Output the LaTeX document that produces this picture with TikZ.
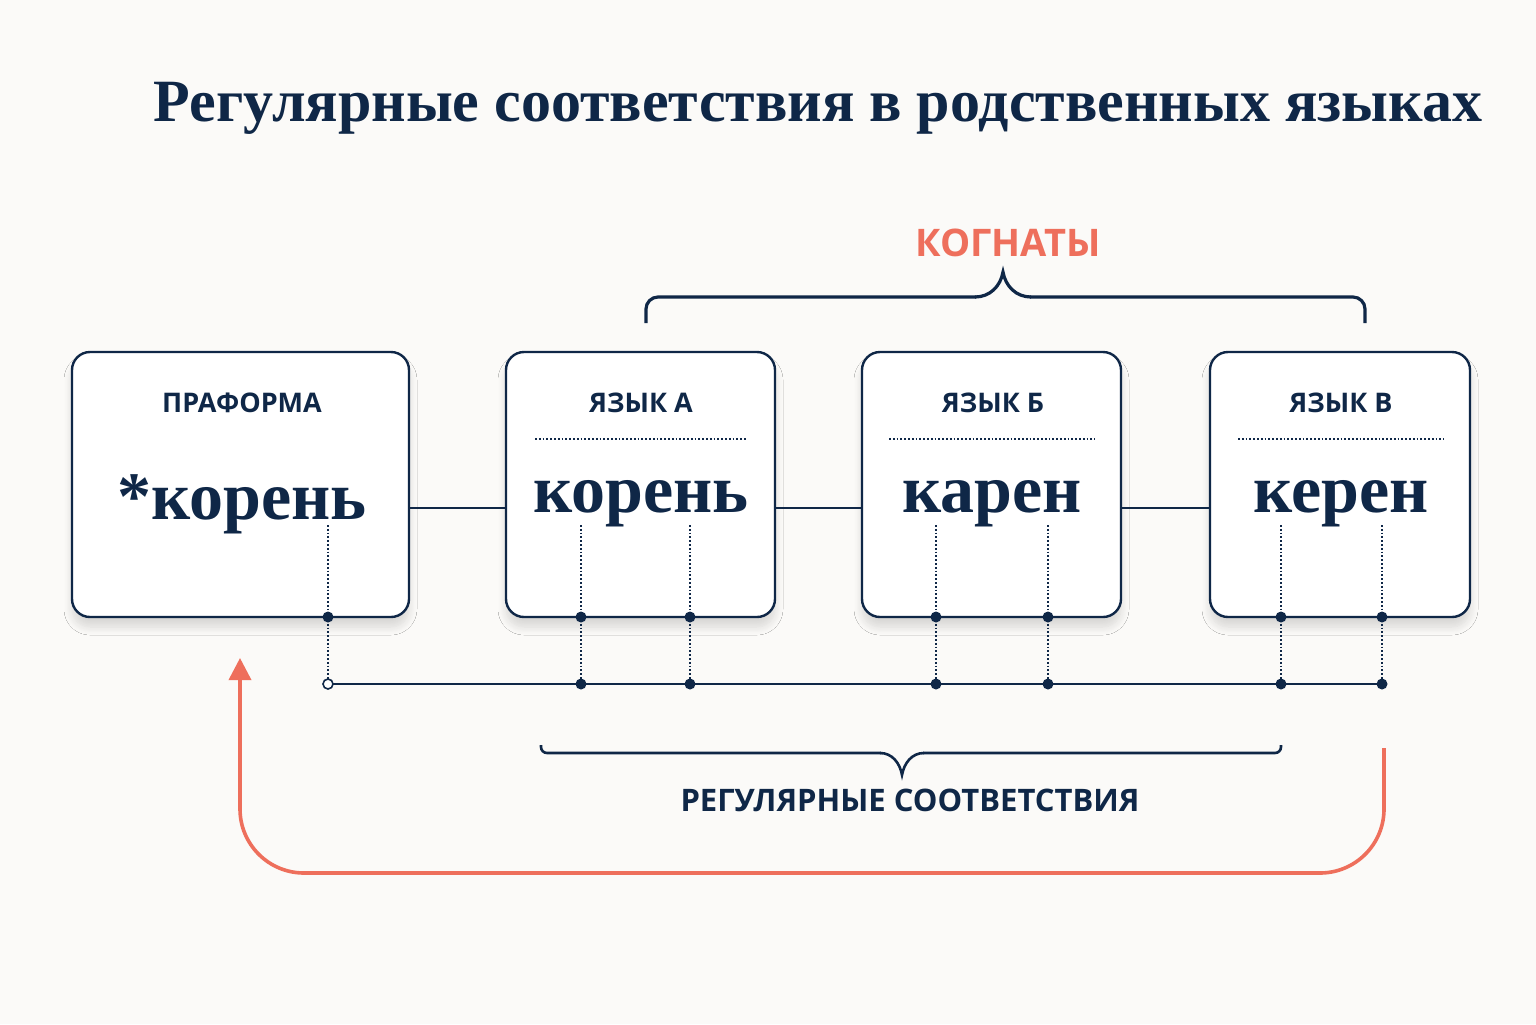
\documentclass[tikz,border=0pt]{standalone}
\usepackage{fontspec}
\setmainfont{Liberation Serif}
\setsansfont{Open Sans}
\usetikzlibrary{shadows.blur,arrows.meta}
\definecolor{navy}{HTML}{0F2747}
\definecolor{coral}{HTML}{EE6F5C}
\definecolor{bg}{HTML}{FBFAF8}
\begin{document}
\begin{tikzpicture}[x=0.5pt,y=-0.5pt,
  box/.style={draw=navy,line width=1.2pt,rounded corners=9pt,fill=white,blur shadow={shadow blur steps=10,shadow blur radius=4pt,shadow xshift=0pt,shadow yshift=-5pt,shadow opacity=14}},
  lab/.style={text=navy,font=\sffamily\bfseries\fontsize{13.5}{16}\selectfont},
  word/.style={text=navy,font=\bfseries\fontsize{34}{40}\selectfont},
  dl/.style={draw=navy,line width=0.9pt,densely dotted},
  ln/.style={draw=navy,line width=1.3pt},
  dot/.style={circle,fill=navy,inner sep=0pt,minimum size=5.5pt},
  odot/.style={circle,draw=navy,fill=white,line width=0.8pt,inner sep=0pt,minimum size=5pt}]
\fill[bg] (0,0) rectangle (1536,1024);
\node[text=navy,font=\bfseries\fontsize{30}{34}\selectfont] (title) at (818,108) {Регулярные соответствия в родственных языках};
% boxes
\node[box,minimum width=168.5pt,minimum height=132.5pt] (P) at (240.5,484.5) {};
\node[box,minimum width=134.5pt,minimum height=132.5pt] (A) at (640.5,484.5) {};
\node[box,minimum width=129.5pt,minimum height=132.5pt] (B) at (991.5,484.5) {};
\node[box,minimum width=130pt,minimum height=132.5pt] (V) at (1340,484.5) {};
\node[lab] (tP) at (242,403) {ПРАФОРМА};
\node[lab] (tA) at (641,403) {ЯЗЫК А};
\node[lab] (tB) at (993,403) {ЯЗЫК Б};
\node[lab] (tV) at (1341,403) {ЯЗЫК В};
\draw[dl] (535,439) -- (747,439);
\draw[dl] (889,439) -- (1095,439);
\draw[dl] (1238,439) -- (1444,439);
\node[word] (wP) at (242,504) {*корень};
\node[word] (wA) at (641,504) {корень};
\node[word] (wB) at (992,504) {карен};
\node[word] (wV) at (1341,504) {керен};
% links
\draw[ln] (P.east |- 0,508) -- (A.west |- 0,508);
\draw[ln] (A.east |- 0,508) -- (B.west |- 0,508);
\draw[ln] (B.east |- 0,508) -- (V.west |- 0,508);
% correspondences
\coordinate (h0) at (328,684);
\coordinate (h1) at (1382,684);
\draw[ln] (h0) -- (h1);
\foreach \x/\n in {581/a1,690/a2,936/b1,1048/b2,1281/v1,1382/v2}{
  \draw[dl] (\x,525) -- (\x,684);
  \node[dot] (u\n) at (\x,617) {};
  \node[dot] (d\n) at (\x,684) {};
}
\draw[dl] (328,525) -- (328,681);
\node[dot] (up) at (328,617) {};
\node[odot] (dp) at (h0) {};
% top brace
\draw[navy,line width=1.6pt,rounded corners=6pt] (646,323) -- (646,297) -- (976,297);
\draw[navy,line width=1.6pt] (975,297) to[out=0,in=-100] (1003,272) to[out=-80,in=180] (1031,297);
\draw[navy,line width=1.6pt,rounded corners=6pt] (1030,297) -- (1365,297) -- (1365,323);
\node[text=coral,font=\sffamily\bfseries\fontsize{19}{22}\selectfont] (kog) at (1008,243) {КОГНАТЫ};
% bottom brace
\draw[navy,line width=1.3pt,rounded corners=3pt] (541,745) -- (541,753) -- (881,753);
\draw[navy,line width=1.3pt] (880,753) to[out=0,in=100] (902,775) to[out=80,in=180] (924,753);
\draw[navy,line width=1.3pt,rounded corners=3pt] (923,753) -- (1281,753) -- (1281,745);
\node[lab,font=\sffamily\bfseries\fontsize{15.5}{18}\selectfont] (reg) at (910,800) {РЕГУЛЯРНЫЕ СООТВЕТСТВИЯ};
% red arrow
\coordinate (rs) at (1384,748);
\coordinate (re) at (240,658);
\draw[coral,line width=1.8pt,rounded corners=32pt,-{Triangle[width=11pt,length=11pt]}] (rs) -- (1384,873) -- (240,873) -- (re);
\end{tikzpicture}
\end{document}
